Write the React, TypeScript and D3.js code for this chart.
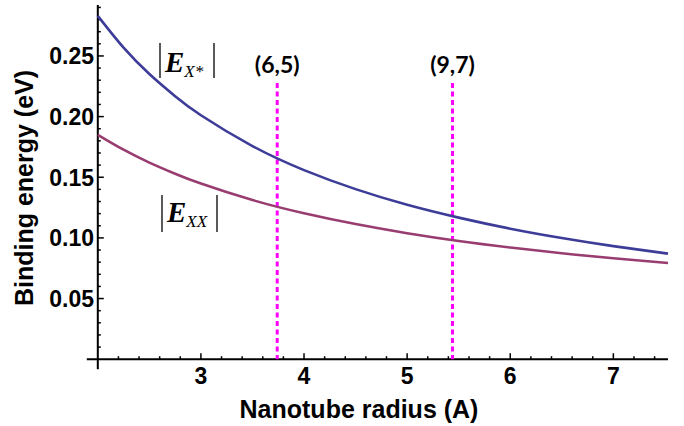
import { useEffect, useRef } from 'react';
import * as d3 from 'd3';

// nanotube radius (A) where the curves were read
const radius = [2, 2.25, 2.5, 2.75, 3, 3.5, 4, 4.5, 5, 5.5, 6, 6.5, 7, 7.53];
// |E_X*| trion binding energy (eV)
const trion = [0.283, 0.2568, 0.2351, 0.2168, 0.2011, 0.1757, 0.1559, 0.1402, 0.1273, 0.1167, 0.1076, 0.0999, 0.0932, 0.087];
// |E_XX| biexciton binding energy (eV)
const biexciton = [0.185, 0.1727, 0.1621, 0.1529, 0.1448, 0.1312, 0.1203, 0.1114, 0.1039, 0.0975, 0.0921, 0.0873, 0.0832, 0.0793];

// chiralities marked by the dashed lines
const tubes = ['(6,5)', '(9,7)'];
const tubeRadius = [3.74, 5.44];

const xTicks = [3, 4, 5, 6, 7];
const yTicks = [0.05, 0.1, 0.15, 0.2, 0.25];

export default function App() {
  const svgRef = useRef<SVGSVGElement>(null);

  useEffect(() => {
    const width = 684;
    const height = 426;
    const svg = d3.select(svgRef.current).attr('width', width).attr('height', height);
    svg.selectAll('*').remove();

    const x = d3.scaleLinear().domain([2, 7.53]).range([97.8, 668]);
    const y = d3.scaleLinear().domain([0, 0.292]).range([359.2, 5]);

    const tickFont = 'Liberation Sans, Arial, sans-serif';

    // axes, crossing at (2, 0) and running a little past it
    svg.append('line')
      .attr('x1', x(2) - 11).attr('x2', x(7.53))
      .attr('y1', y(0)).attr('y2', y(0))
      .attr('stroke', '#000').attr('stroke-width', 2);
    svg.append('line')
      .attr('x1', x(2)).attr('x2', x(2))
      .attr('y1', y(0.292)).attr('y2', y(0) + 10)
      .attr('stroke', '#000').attr('stroke-width', 2);

    // x ticks (inward)
    const xMinor = d3.range(11, 38).map(d => d / 5).filter(d => d <= 7.5);
    svg.append('g').selectAll('line').data(xMinor).join('line')
      .attr('x1', d => x(d)).attr('x2', d => x(d))
      .attr('y1', y(0)).attr('y2', d => y(0) - (Number.isInteger(Math.round(d * 100) / 100) ? 6 : 3))
      .attr('stroke', '#000').attr('stroke-width', 1.5);
    svg.append('g').selectAll('text').data(xTicks).join('text')
      .attr('x', d => x(d)).attr('y', 384)
      .attr('text-anchor', 'middle')
      .style('font-family', tickFont).style('font-weight', 'bold').style('font-size', '23px')
      .text(d => d);

    // y ticks (inward)
    const yMinor = d3.range(1, 30).map(d => d / 100);
    svg.append('g').selectAll('line').data(yMinor).join('line')
      .attr('x1', x(2)).attr('x2', (d, i) => x(2) + ((i + 1) % 5 === 0 ? 6 : 3))
      .attr('y1', d => y(d)).attr('y2', d => y(d))
      .attr('stroke', '#000').attr('stroke-width', 1.5);
    svg.append('g').selectAll('text').data(yTicks).join('text')
      .attr('x', 94).attr('y', d => y(d)).attr('dy', '0.36em')
      .attr('text-anchor', 'end')
      .style('font-family', tickFont).style('font-weight', 'bold').style('font-size', '23px')
      .text(d => d3.format('.2f')(d));

    // axis titles
    svg.append('text')
      .attr('x', 359).attr('y', 418).attr('text-anchor', 'middle')
      .style('font-family', tickFont).style('font-weight', 'bold').style('font-size', '25px')
      .text('Nanotube radius (A)');
    svg.append('text')
      .attr('transform', 'translate(33,188) rotate(-90)').attr('text-anchor', 'middle')
      .style('font-family', tickFont).style('font-weight', 'bold').style('font-size', '25px')
      .text('Binding energy (eV)');

    // dashed chirality markers
    tubeRadius.forEach((r, i) => {
      svg.append('line')
        .attr('x1', x(r)).attr('x2', x(r))
        .attr('y1', 83).attr('y2', y(0))
        .attr('stroke', '#ff00ff').attr('stroke-width', 3)
        .attr('stroke-dasharray', '5,3.5');
      svg.append('text')
        .attr('x', x(r)).attr('y', 73).attr('text-anchor', 'middle')
        .style('font-family', 'Lato, sans-serif').style('font-weight', 'bold').style('font-size', '23px')
        .text(tubes[i]);
    });

    // curves
    const line = d3.line<number>()
      .x((d, i) => x(radius[i]))
      .y(d => y(d))
      .curve(d3.curveNatural);

    svg.append('path')
      .datum(biexciton)
      .attr('fill', 'none')
      .attr('stroke', '#993d71')
      .attr('stroke-width', 2.6)
      .attr('d', line);

    svg.append('path')
      .datum(trion)
      .attr('fill', 'none')
      .attr('stroke', '#3d3d99')
      .attr('stroke-width', 2.6)
      .attr('d', line);

    // |E| labels
    const label = (x0: number, x1: number, top: number, bottom: number, base: number, sub: string) => {
      const g = svg.append('g');
      [x0, x1].forEach(bx => {
        g.append('line')
          .attr('x1', bx).attr('x2', bx).attr('y1', top).attr('y2', bottom)
          .attr('stroke', '#000').attr('stroke-width', 1.3);
      });
      const t = g.append('text')
        .attr('x', x0 + 5).attr('y', base)
        .style('font-family', 'Liberation Serif, Times New Roman, serif')
        .style('font-style', 'italic');
      t.append('tspan').style('font-weight', 'bold').style('font-size', '29px').text('E');
      t.append('tspan').attr('dy', 5).style('font-size', '17px').text(sub);
    };
    label(160, 214, 43, 78, 72, 'X*');
    label(162, 217, 195, 232, 222, 'XX');
  }, []);

  return (
    <svg ref={svgRef} style={{ position: 'absolute', left: 0, top: 0, background: '#fff' }}></svg>
  );
}
